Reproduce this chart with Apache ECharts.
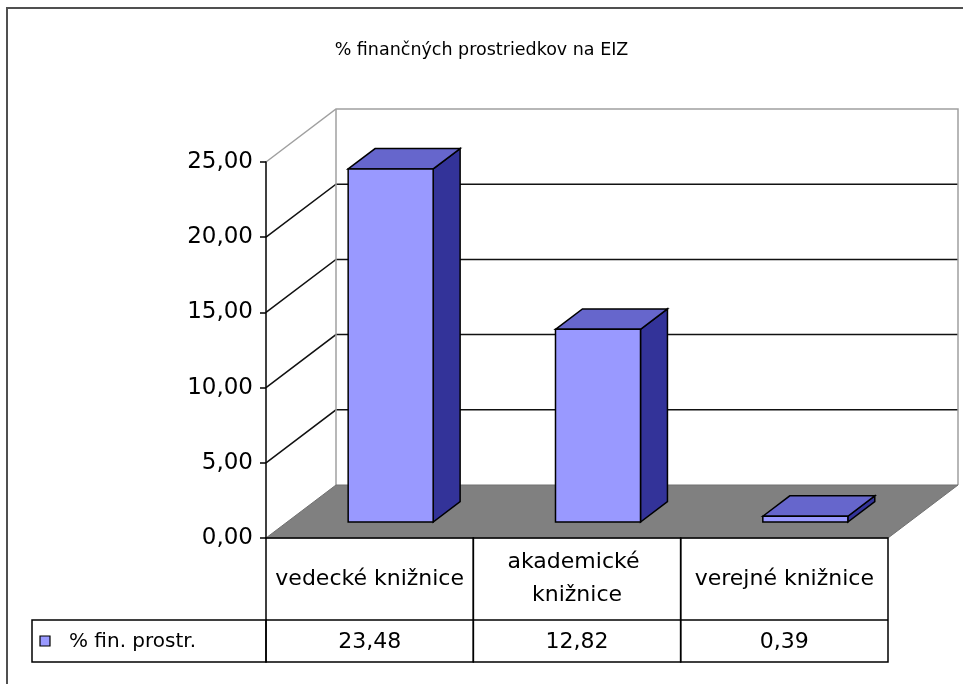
<!DOCTYPE html>
<html>
<head>
<meta charset="utf-8">
<script src="https://cdn.jsdelivr.net/npm/echarts@6/dist/echarts.min.js"></script>
<style>
  html, body { margin: 0; padding: 0; background: #fff; }
  #chart { width: 963px; height: 684px; }
</style>
</head>
<body>
<div id="chart"></div>
<script>
// data
const categories = ['vedecké knižnice', 'akademické knižnice', 'verejné knižnice'];
const finValues = [23.48, 12.82, 0.39];
const seriesName = '% fin. prostr.';
const titleText = '% finančných prostriedkov na EIZ';
const yTicks = [0, 5, 10, 15, 20, 25];

// 3d depth of the plot box (pixels)
const DX = 70, DY = -53;
const FONT = 'DejaVu Sans';

const fmt = (v) => v.toFixed(2).replace('.', ',');

const chart = echarts.init(document.getElementById('chart'));

// back wall, side wall, grid lines and floor
function renderWalls(params, api) {
  const cs = params.coordSys;
  const x0 = cs.x, x1 = cs.x + cs.width;
  const yb = api.coord([0, 0])[1];
  const yt = api.coord([0, yTicks[yTicks.length - 1]])[1];
  const kids = [];
  kids.push({ type: 'polygon', shape: { points: [[x0, yt], [x0 + DX, yt + DY], [x1 + DX, yt + DY], [x1 + DX, yb + DY], [x0 + DX, yb + DY], [x0, yb]] },
    style: { fill: '#fff', stroke: null } });
  // grid lines
  yTicks.slice(1, -1).forEach((v) => {
    const y = api.coord([0, v])[1];
    kids.push({ type: 'polyline', shape: { points: [[x0, y], [x0 + DX, y + DY], [x1 + DX, y + DY]] },
      style: { stroke: '#111', lineWidth: 1.5, fill: null } });
  });
  // wall edges (gray)
  kids.push({ type: 'polyline', shape: { points: [[x0, yt], [x0 + DX, yt + DY], [x1 + DX, yt + DY], [x1 + DX, yb + DY]] },
    style: { stroke: '#a0a0a0', lineWidth: 1.5, fill: null } });
  kids.push({ type: 'line', shape: { x1: x0 + DX, y1: yt + DY, x2: x0 + DX, y2: yb + DY },
    style: { stroke: '#a0a0a0', lineWidth: 1.5 } });
  // floor
  kids.push({ type: 'polygon', shape: { points: [[x0, yb], [x0 + DX, yb + DY], [x1 + DX, yb + DY], [x1, yb]] },
    style: { fill: '#808080', stroke: '#707070', lineWidth: 1 } });
  return { type: 'group', children: kids };
}

// 3d bars
function renderBar(params, api) {
  const i = api.value(0);
  const top = api.coord([i, api.value(1)]);
  const base = api.coord([i, 0]);
  const bw = api.size([1, 0])[0] * 0.41;
  const fx = DX * 0.3, fy = DY * 0.3;
  const bdx = DX * 0.385, bdy = DY * 0.385;
  const L = top[0] + fx - bw / 2, R = top[0] + fx + bw / 2;
  const T = top[1] + fy, B = base[1] + fy;
  const st = { stroke: '#000', lineWidth: 1.5 };
  return {
    type: 'group',
    children: [
      { type: 'polygon', shape: { points: [[R, T], [R + bdx, T + bdy], [R + bdx, B + bdy], [R, B]] },
        style: Object.assign({ fill: '#333399' }, st) },
      { type: 'polygon', shape: { points: [[L, T], [L + bdx, T + bdy], [R + bdx, T + bdy], [R, T]] },
        style: Object.assign({ fill: '#6666cc' }, st) },
      { type: 'rect', shape: { x: L, y: T, width: R - L, height: B - T },
        style: Object.assign({ fill: '#9999ff' }, st) }
    ]
  };
}

// data table below the plot
const ROW1 = 82, ROW2 = 42;
function renderTable(params, api) {
  const i = api.value(0);
  const base = api.coord([i, 0]);
  const w = api.size([1, 0])[0];
  const xl = base[0] - w / 2;
  const y0 = base[1];
  const line = { stroke: '#000', lineWidth: 1.5, fill: null };
  const kids = [
    { type: 'rect', shape: { x: xl, y: y0, width: w, height: ROW1 + ROW2 }, style: line },
    { type: 'line', shape: { x1: xl, y1: y0 + ROW1, x2: xl + w, y2: y0 + ROW1 }, style: line },
    { type: 'text', style: { text: categories[i], x: base[0], y: y0 + ROW1 / 2, align: 'center', verticalAlign: 'middle',
        width: w + 8, overflow: 'break', lineHeight: 33, font: '22px "' + FONT + '"', fill: '#000' } },
    { type: 'text', style: { text: fmt(api.value(1)), x: base[0], y: y0 + ROW1 + ROW2 / 2 + 1, align: 'center', verticalAlign: 'middle',
        font: '22px "' + FONT + '"', fill: '#000' } }
  ];
  if (i === 0) {
    const lx = 32;
    kids.push({ type: 'rect', shape: { x: lx, y: y0 + ROW1, width: xl - lx, height: ROW2 }, style: line });
    kids.push({ type: 'rect', shape: { x: 40, y: y0 + ROW1 + 16, width: 10, height: 10 },
      style: { fill: '#9999ff', stroke: '#000', lineWidth: 1.2 } });
    kids.push({ type: 'text', style: { text: seriesName, x: 69, y: y0 + ROW1 + ROW2 / 2 + 1, verticalAlign: 'middle',
      font: '20px "' + FONT + '"', fill: '#000' } });
  }
  return { type: 'group', children: kids };
}

const option = {
  animation: false,
  backgroundColor: '#fff',
  title: {
    text: titleText,
    left: 'center',
    top: 36,
    textStyle: { fontFamily: FONT, fontSize: 17.5, fontWeight: 'normal', color: '#000' }
  },
  grid: { left: 266, top: 162, width: 622, height: 376 },
  xAxis: {
    type: 'category',
    data: categories,
    show: false
  },
  yAxis: {
    type: 'value',
    min: 0,
    max: 25,
    interval: 5,
    z: 5,
    axisLine: { show: true, lineStyle: { color: '#000', width: 1.5 } },
    axisTick: { show: true, length: 6, lineStyle: { color: '#000', width: 1.5 } },
    axisLabel: { formatter: fmt, fontFamily: FONT, fontSize: 23, color: '#000', margin: 13 },
    splitLine: { show: false }
  },
  graphic: [
    { type: 'rect', shape: { x: 7, y: 8, width: 980, height: 700 },
      style: { fill: null, stroke: '#505050', lineWidth: 2 }, z: 100 }
  ],
  series: [
    { type: 'custom', name: 'walls', z: 1, silent: true, renderItem: renderWalls, data: [[0, 0]] },
    { type: 'custom', name: seriesName, z: 3, renderItem: renderBar,
      data: finValues.map((v, i) => [i, v]) },
    { type: 'custom', name: 'table', z: 4, silent: true, renderItem: renderTable,
      data: finValues.map((v, i) => [i, v]) }
  ]
};

chart.setOption(option);
</script>
</body>
</html>
